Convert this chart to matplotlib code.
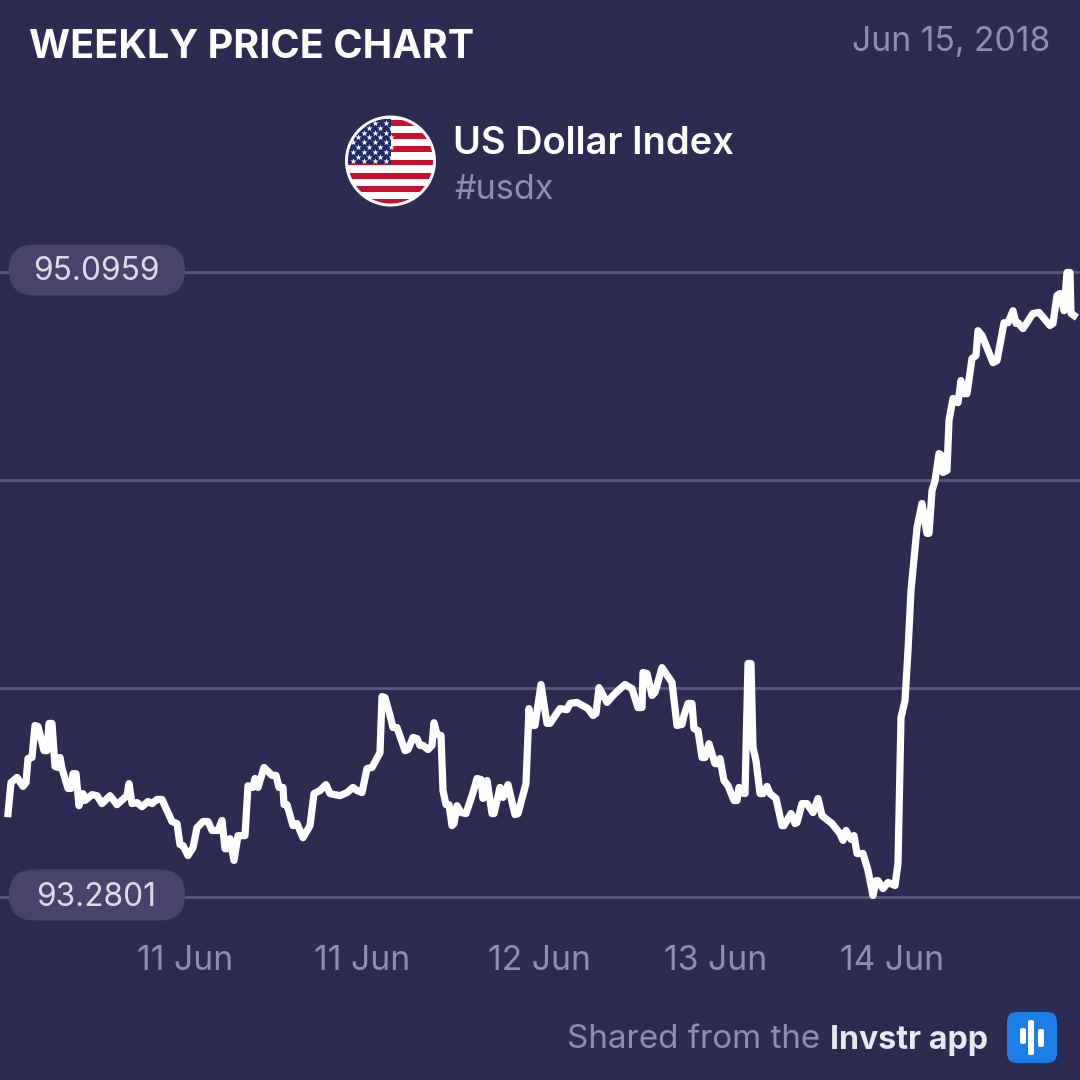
"""
Weekly price chart card for the US Dollar Index.
"""

import matplotlib

matplotlib.use("Agg")

import matplotlib.pyplot as plt
from matplotlib.patches import Circle, FancyBboxPatch, Rectangle

# --- Data ---
samples = [
    2, 2.75, 4.25, 5.75, 6.5, 7, 8, 8.75, 9.5, 11, 11.75, 12.25, 13, 13.75, 14.5, 15,
    15.5, 17, 17.75, 18.25, 19, 19.75, 20.75, 21.25, 23, 24.25, 25.5, 27.5, 29.25, 31.75,
    32.25, 33, 34.25, 35.5, 37, 38, 39.25, 40.5, 43, 44.25, 45, 45.75, 47, 48.25, 49.25,
    50.75, 52, 53, 54.5, 55.5, 56.25, 57, 57.5, 58.5, 59.5, 61.25, 62, 63.25, 63.75, 64.5,
    66, 68, 69, 69.75, 70.75, 71, 71.75, 73.25, 74.25, 75.75, 77.5, 78.5, 80, 81.5, 82.5,
    85, 86.75, 88.25, 89.25,
    90.5, 91.75, 93, 95, 95.5, 96.25, 97.5, 98.25, 99.25, 101.25, 102, 103.25, 104.25, 105,
    105.75, 107, 108, 108.5, 109.25, 110.25, 110.75, 111.5, 112.25, 113, 113.5, 114.25,
    115.25, 116.5, 118.25, 119.25, 120.25, 120.75, 121.75, 123, 123.5, 125, 125.75, 127,
    128.75, 129.5, 131.5, 132.25, 132.75, 133.75, 135.25, 136.75, 137.5, 140, 141.75, 142.5,
    144.25, 147, 148.25, 149, 149.75, 151.75, 153.25, 154.5, 156.25, 158, 159.5, 160.5,
    160.75, 161.75, 163, 163.75, 165.5, 168, 169.25, 170.5, 171, 172, 173, 173.5, 174.5,
    175.5, 176.25, 177.25, 178.75, 179.5,
    180, 181, 182, 183.5, 184.25, 184.75, 185.25, 186.25, 187, 187.75, 188.25, 189, 190,
    190.75, 191.75, 192.5, 194, 195.5, 196, 197.75, 198.75, 199.25, 200.5, 201.75, 203.25,
    204.5, 205.5, 208, 210, 210.75, 211.5, 212.75, 213.5, 214.25, 215.75, 217, 218.25, 219,
    219.5, 220.75, 222, 223.75, 224.5, 225.25, 226.25, 227, 227.75, 228.5,
    229.25, 230.5, 231.75, 232.25, 233, 233.75, 234.75, 235.5, 235.75, 236.75, 237.25,
    238.25, 239.5, 240.25, 240.75, 241.75, 243, 244, 244.5, 245.5, 248.25, 249.25, 251, 252,
    253.25, 254, 254.5, 255.75, 258.25, 259.75, 262.5, 263.25, 264.25, 265, 266, 266.75,
    267.5, 267.75, 268.5,
]
prices = [
    93.521, 93.611, 93.626, 93.600, 93.611, 93.681, 93.684, 93.777, 93.774, 93.704, 93.704,
    93.783, 93.783, 93.658, 93.655, 93.684, 93.652, 93.594, 93.594, 93.637, 93.637, 93.544,
    93.579, 93.559, 93.576, 93.573, 93.550, 93.573, 93.547, 93.573, 93.608, 93.550, 93.553,
    93.541, 93.556, 93.550, 93.562, 93.562, 93.498, 93.492, 93.431, 93.428, 93.399, 93.422,
    93.480, 93.498, 93.498, 93.472, 93.472, 93.501, 93.419, 93.419, 93.448, 93.385, 93.457,
    93.457, 93.602, 93.597, 93.623, 93.597, 93.655, 93.632, 93.632, 93.597, 93.597, 93.547,
    93.547, 93.486, 93.492, 93.451, 93.486, 93.579, 93.588, 93.605, 93.579, 93.573, 93.582,
    93.597, 93.588,
    93.582, 93.652, 93.655, 93.698, 93.861, 93.858, 93.806, 93.771, 93.771, 93.704, 93.707,
    93.742, 93.739, 93.719, 93.719, 93.707, 93.719, 93.785, 93.751, 93.748, 93.588, 93.547,
    93.547, 93.486, 93.492, 93.544, 93.524, 93.521, 93.582, 93.623, 93.620, 93.565, 93.617,
    93.521, 93.521, 93.597, 93.568, 93.605, 93.518, 93.521, 93.608, 93.826, 93.777, 93.777,
    93.896, 93.783, 93.783, 93.826, 93.823, 93.841, 93.844, 93.826, 93.806, 93.812, 93.887,
    93.844, 93.864, 93.878, 93.896, 93.884, 93.829, 93.829, 93.931, 93.928, 93.864, 93.873,
    93.945, 93.902, 93.777, 93.780, 93.806, 93.841, 93.841, 93.768, 93.762, 93.684, 93.684,
    93.724, 93.666, 93.666,
    93.681, 93.617, 93.602, 93.559, 93.559, 93.597, 93.582, 93.579, 93.957, 93.957, 93.713,
    93.675, 93.579, 93.579, 93.600, 93.579, 93.565, 93.486, 93.486, 93.521, 93.492, 93.495,
    93.550, 93.550, 93.524, 93.565, 93.515, 93.492, 93.463, 93.443, 93.472, 93.446, 93.457,
    93.405, 93.405, 93.356, 93.283, 93.326, 93.326, 93.303, 93.321, 93.312, 93.376, 93.800,
    93.849, 93.995, 94.169, 94.262,
    94.352, 94.422, 94.335, 94.335, 94.459, 94.488, 94.567, 94.561, 94.512, 94.518, 94.663,
    94.727, 94.715, 94.779, 94.741, 94.741, 94.843, 94.852, 94.924, 94.910, 94.831, 94.837,
    94.947, 94.947, 94.982, 94.945, 94.947, 94.930, 94.974, 94.977, 94.939, 94.945, 95.026,
    95.032, 94.982, 95.093, 95.093, 94.974, 94.968,
]
tick_samples = [46.25, 90.5, 134.75, 179, 223]
tick_labels = ["11 Jun", "11 Jun", "12 Jun", "13 Jun", "14 Jun"]
price_low = 93.2801
price_high = 95.0959
grid_levels = [93.2801, 93.8854, 94.4906, 95.0959]

# --- Colours ---
BG = "#2d2b52"
GRID = "#5a5884"
PILL = "#48426f"
GREY = "#8f8eab"
PILL_TEXT = "#dcdce8"
FONT = "Inter"

SIZE = 1080

plt.rcParams["font.family"] = [FONT, "DejaVu Sans"]
fig = plt.figure(figsize=(SIZE / 100, SIZE / 100), dpi=100, facecolor=BG)

# --- Price chart, plot area runs between the low and high grid lines ---
ax = fig.add_axes([0, 1 - 896.5 / SIZE, 1, 625 / SIZE], facecolor="none")
ax.set_xlim(0, 270)
ax.set_ylim(price_low, price_high)
ax.set_yticks(grid_levels)
ax.set_xticks(tick_samples, tick_labels)
ax.grid(axis="y", color=GRID, lw=2.0, clip_on=False)
ax.set_axisbelow(True)
ax.tick_params(axis="y", left=False, labelleft=False)
ax.tick_params(axis="x", bottom=False, pad=31.5, labelsize=24.2, labelcolor=GREY)
for spine in ax.spines.values():
    spine.set_visible(False)
ax.plot(samples, prices, color="white", lw=5.2, solid_joinstyle="round", clip_on=False)

# --- Everything around the chart, placed in picture pixels ---
top = fig.add_axes([0, 0, 1, 1], facecolor="none")
top.set_xlim(0, SIZE)
top.set_ylim(SIZE, 0)
top.set_axis_off()

top.text(29, 48, "WEEKLY PRICE CHART", color="white", fontsize=28.5, fontweight="bold",
         va="center", ha="left")
top.text(1050, 42, "Jun 15, 2018", color=GREY, fontsize=24.2, va="center", ha="right")
top.text(453, 144, "US Dollar Index", color="white", fontsize=27.4, fontweight="semibold",
         va="center", ha="left")
top.text(454, 190, "#usdx", color=GREY, fontsize=24.6, va="center", ha="left")

for y_mid, label in [(270, "95.0959"), (895, "93.2801")]:
    top.add_patch(FancyBboxPatch((9, y_mid - 25.5), 176, 51, fc=PILL, ec="none",
                                 boxstyle="round,pad=0,rounding_size=25"))
    top.text(96.5, y_mid + 2, label, color=PILL_TEXT, fontsize=22.8, va="center", ha="center")

top.text(988, 1040, "Invstr app", color="#e8e8f0", fontsize=23.2, fontweight="bold",
         va="center", ha="right")
top.text(820, 1040, "Shared from the", color=GREY, fontsize=23.9, va="center", ha="right")

# --- Flag badge ---
CX, CY, R = 390.5, 161, 42.5
clip = Circle((CX, CY), R, transform=top.transData)
top.add_patch(Circle((CX, CY), R + 3, fc="white", ec="none"))
for i in range(7):
    stripe = Rectangle((CX - R, 120 + i * 13.2), 2 * R, 5.8, fc="#c8102e", ec="none")
    top.add_patch(stripe)
    stripe.set_clip_path(clip)
canton = Rectangle((CX - R, CY - R), R, 45, fc="#1d2a6b", ec="none")
top.add_patch(canton)
canton.set_clip_path(clip)
star_x, star_y = [], []
for row in range(9):
    for col in range(4):
        star_x.append(352.5 + col * 11 + (row % 2) * 5.5)
        star_y.append(123 + row * 4.8)
stars = top.scatter(star_x, star_y, s=22, marker="*", color="white", lw=0)
stars.set_clip_path(clip)

# --- App icon ---
top.add_patch(FancyBboxPatch((1007, 1012), 50, 51, fc="#1a7ee6", ec="none",
                             boxstyle="round,pad=0,rounding_size=10"))
for x0, y0, y1 in [(1020, 1028, 1044), (1028, 1020, 1055), (1038, 1029, 1047)]:
    top.add_patch(FancyBboxPatch((x0, y0), 6, y1 - y0, fc="white", ec="none",
                                 boxstyle="round,pad=0,rounding_size=2"))

fig.savefig("out.png", dpi=100, facecolor=BG)
